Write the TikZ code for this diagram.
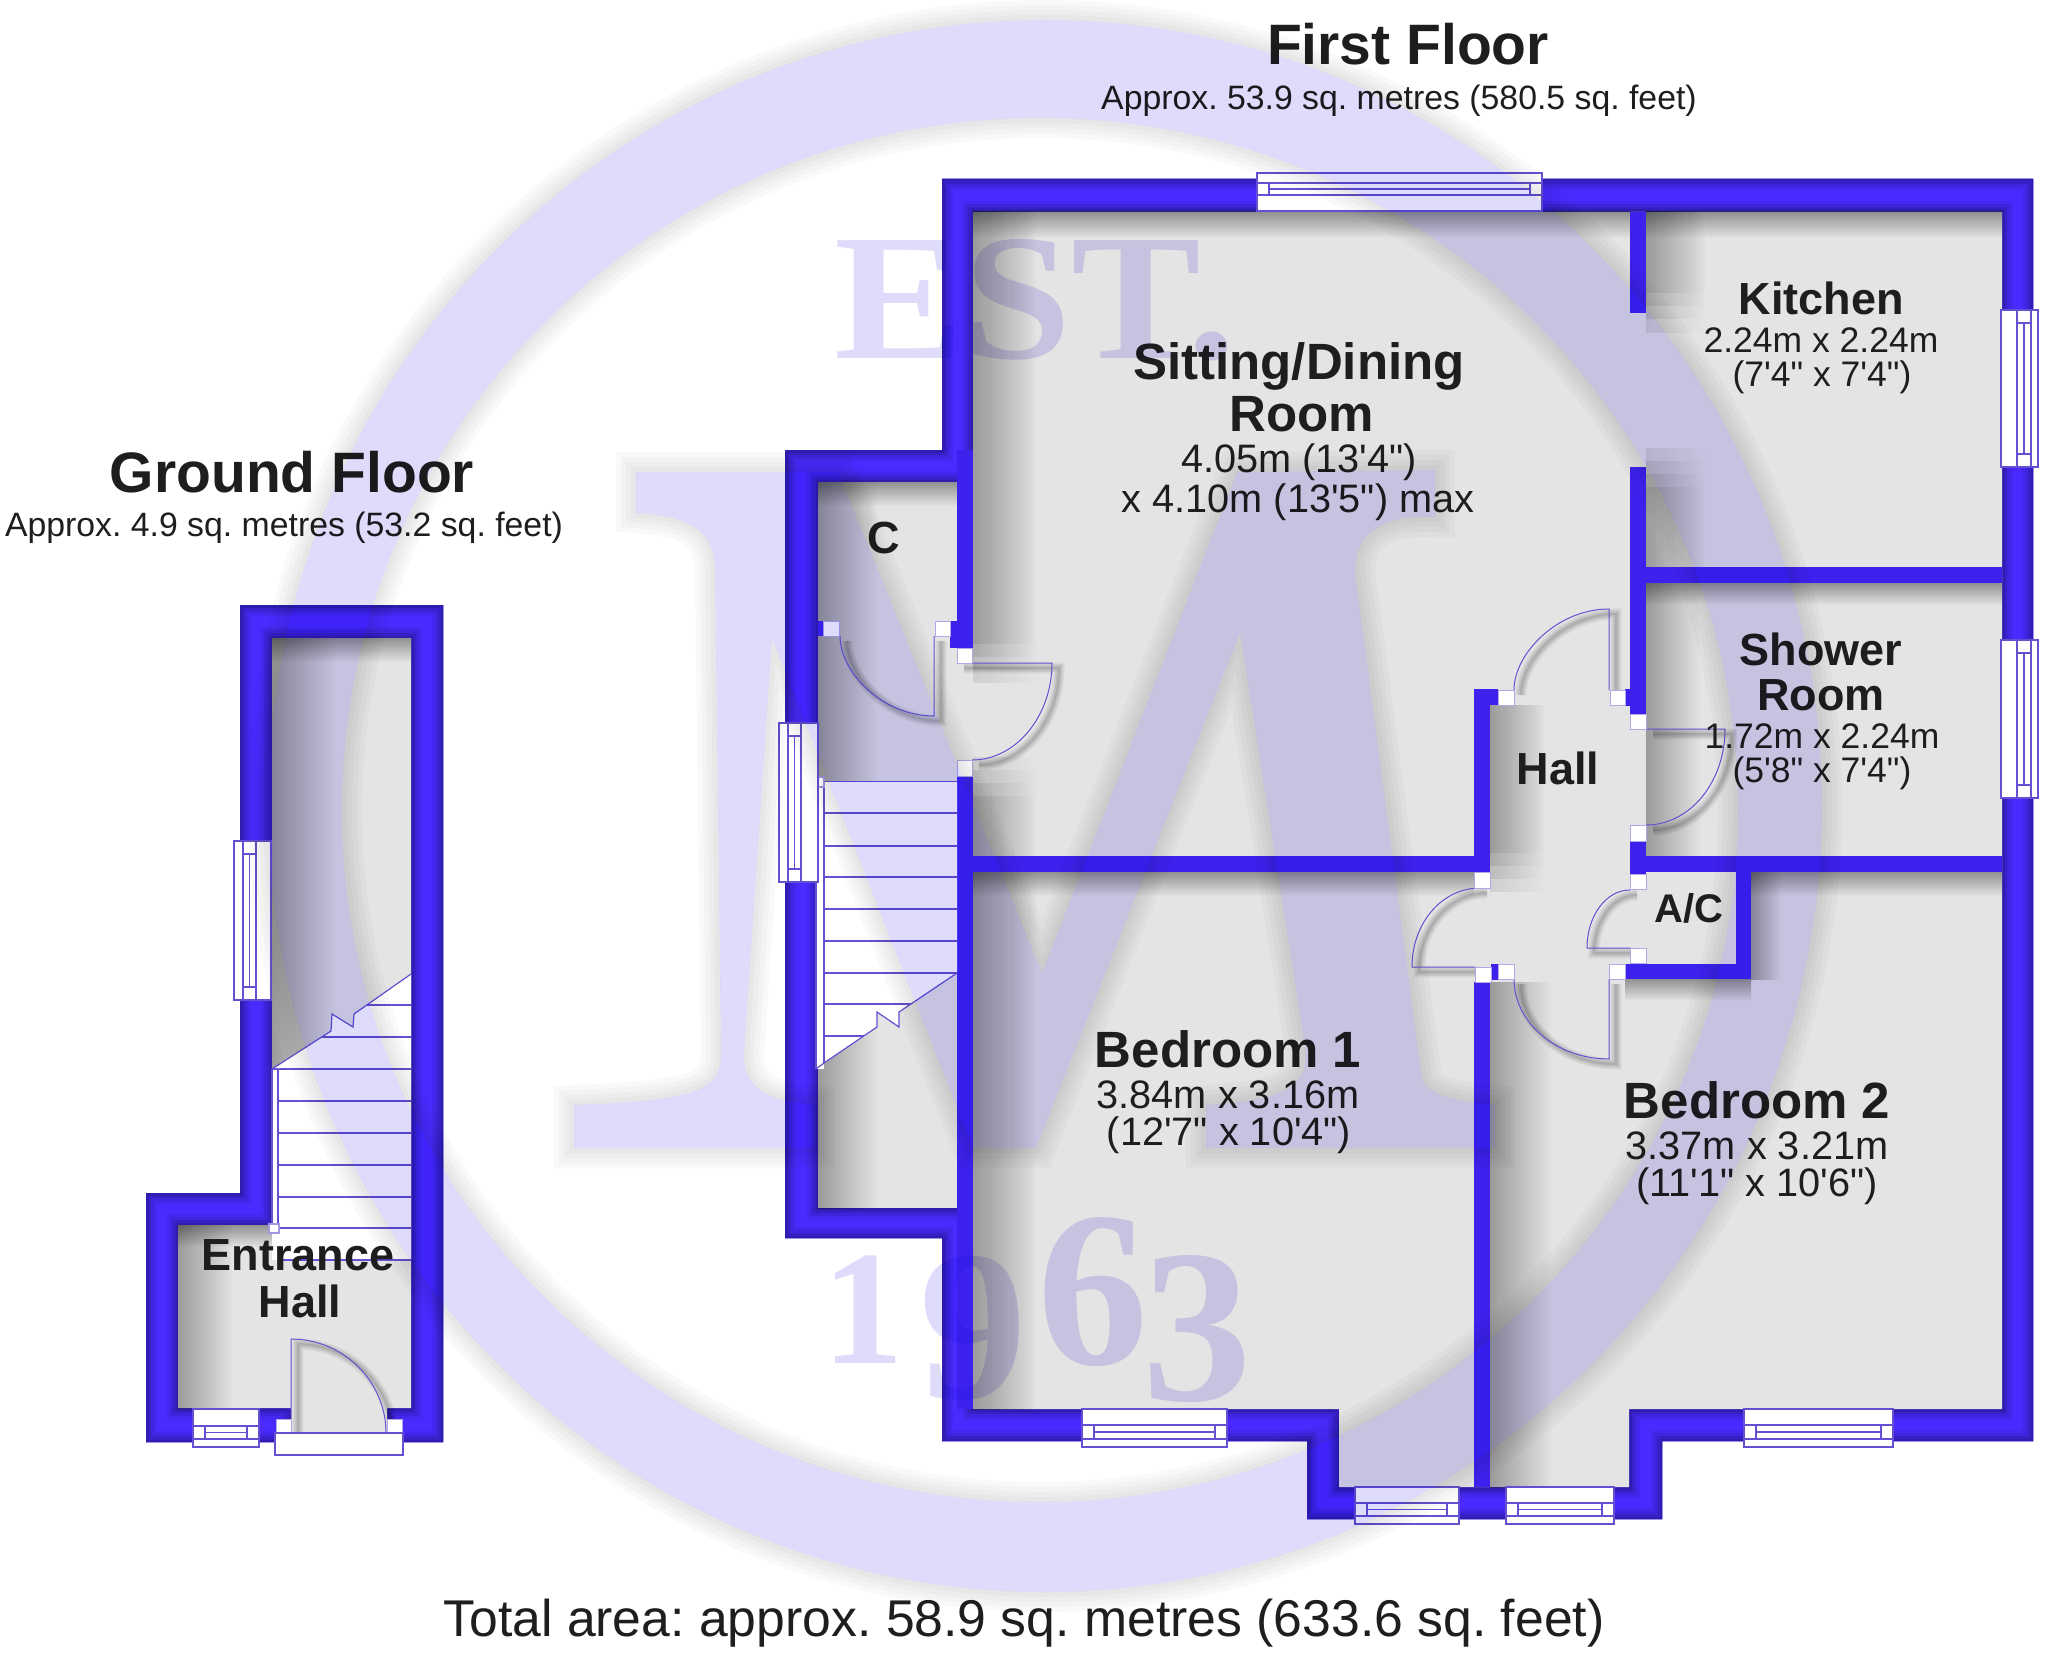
\documentclass[tikz,border=0pt]{standalone}
\usepackage{fontspec}
\setmainfont{Liberation Sans}[Ligatures=TeXOff]
\newfontfamily\wmserif{Liberation Serif}
\definecolor{wallb}{HTML}{4A2BFF}
\definecolor{walld}{HTML}{2C1AA8}
\definecolor{wallp}{HTML}{3D22EE}
\definecolor{floorg}{HTML}{E4E4E4}
\definecolor{planline}{HTML}{6450D0}
\definecolor{wmark}{HTML}{DEDBFB}
\definecolor{labelc}{HTML}{1E1E1E}
\tikzset{
  x=1pt,y=-1pt,
  plan/.style={draw=planline,line width=1.2pt},
  whitebox/.style={plan,fill=white},
  floorfill/.style={fill=floorg},
  inner/.style={fill=wallp},
  big/.style={font=\bfseries\fontsize{57}{57}\selectfont,text=labelc,inner sep=0pt},
  area/.style={font=\fontsize{33.8}{34}\selectfont,text=labelc,inner sep=0pt},
  rname/.style={font=\bfseries\fontsize{51}{51}\selectfont,text=labelc,inner sep=0pt},
  rnamesm/.style={font=\bfseries\fontsize{45}{45}\selectfont,text=labelc,inner sep=0pt},
  dim/.style={font=\fontsize{39.7}{40}\selectfont,text=labelc,inner sep=0pt},
  dimsm/.style={font=\fontsize{35.5}{36}\selectfont,text=labelc,inner sep=0pt},
  total/.style={font=\fontsize{51.7}{52}\selectfont,text=labelc,inner sep=0pt},
  wmdigit/.style={text=wmark,inner sep=0pt},
}
\frenchspacing
% horizontal window: x1 x2, y outer-box top, line1, line2, box bottom
\newcommand{\Hwin}[6]{%
  \pgfmathsetmacro{\wa}{#1+12}\pgfmathsetmacro{\wb}{#2-12}\pgfmathsetmacro{\wm}{(#4+#5)/2}
  \draw[whitebox] (#1,#3) rectangle (#2,#6);
  \draw[plan] (#1,#4) -- (#2,#4) (#1,#5) -- (#2,#5) (\wa,#4) -- (\wa,#5) (\wb,#4) -- (\wb,#5) (\wa,\wm) -- (\wb,\wm);
}
% vertical window: y1 y2, x box left, line1, line2, box right
\newcommand{\Vwin}[6]{%
  \pgfmathsetmacro{\wa}{#1+13}\pgfmathsetmacro{\wb}{#2-13}\pgfmathsetmacro{\wm}{(#4+#5)/2}
  \draw[whitebox] (#3,#1) rectangle (#6,#2);
  \draw[plan] (#4,#1) -- (#4,#2) (#5,#1) -- (#5,#2) (#4,\wa) -- (#5,\wa) (#4,\wb) -- (#5,\wb) (\wm,\wa) -- (\wm,\wb);
}
% shadow bands (multiplied over the floor)
\newcommand{\SV}[4]{\shade[blend mode=multiply,left color=black!32,right color=white] (#1,#2) rectangle ({#1+#4},#3);}
\newcommand{\SVl}[4]{\shade[blend mode=multiply,left color=black!9,right color=white] (#1,#2) rectangle ({#1+#4},#3);}
\newcommand{\SH}[4]{\shade[blend mode=multiply,top color=black!36,bottom color=white] (#1,#3) rectangle (#2,{#3+#4});}
\newcommand{\Jamb}[4]{\fill[white] (#1,#2) rectangle (#3,#4); \draw[draw=planline!50,line width=.8pt] (#1,#2) rectangle (#3,#4);}
% door: hinge h, leaf end a, arc controls c1 c2, arc end b
\newcommand{\Door}[5]{%
  \foreach \k/\op in {11/.05,8/.06,5/.07,2/.08}{
    \draw[black,opacity=\op,line width=\k pt,line cap=butt,xshift=7pt,yshift=-5pt] #1 -- #2 .. controls #3 and #4 .. #5;
  }
  \draw[plan,line width=1pt] #1 -- #2 .. controls #3 and #4 .. #5;
}
\begin{document}
\begin{tikzpicture}
\useasboundingbox (0,0) rectangle (2048,1653);
\fill[white] (0,0) rectangle (2048,1653);

%% ===== silhouettes =====
\def\outerG{(240,605) -- (443,605) -- (443,1442) -- (146,1442) -- (146,1193) -- (240,1193) -- cycle}
\def\outerF{(942,179) -- (2033,179) -- (2033,1441) -- (1662,1441) -- (1662,1519) -- (1307,1519) -- (1307,1441) -- (942,1441) -- (942,1238) -- (785,1238) -- (785,450) -- (942,450) -- cycle}
\def\floorG{(272,638) -- (411,638) -- (411,1408) -- (387,1408) -- (387,1433) -- (291,1433) -- (291,1408) -- (178,1408) -- (178,1225) -- (272,1225) -- cycle}
\def\floorF{(973,212) -- (2002,212) -- (2002,1409) -- (1629,1409) -- (1629,1487) -- (1339,1487) -- (1339,1409) -- (973,1409) -- cycle}
\def\floorC{(818,482) -- (957,482) -- (957,1208) -- (818,1208) -- cycle}

\foreach \ring in {0,1}{
  \begin{scope}
    \ifnum\ring=0 \clip \outerG; \else \clip \outerF; \fi
    \fill[wallb] (0,0) rectangle (2048,1653);
    \foreach \w/\m in {22/18,16/40,10/65,5/90}{
      \draw[walld!\m!wallb,line width=\w pt] \outerG;
      \draw[walld!\m!wallb,line width=\w pt] \outerF;
      \draw[walld!\m!wallb,line width=\w pt] \floorG;
      \draw[walld!\m!wallb,line width=\w pt] \floorF;
      \draw[walld!\m!wallb,line width=\w pt] \floorC;
    }
  \end{scope}
}

%% ===== floors =====
\fill[floorfill] \floorG;
\fill[floorfill] \floorF;
\fill[floorfill] \floorC;
\fill[floorfill] (950,663) rectangle (980,760);

%% ===== soft wall shadows =====
\begin{scope}
\SV{272}{638}{1225}{64}
\SV{178}{1225}{1408}{55}
\SH{272}{411}{638}{24}
\SH{178}{272}{1225}{22}
\SV{818}{482}{1208}{60}
\SH{818}{957}{482}{24}
\foreach \d in {0,13,26,39}{
  \SVl{973}{212}{643+\d}{64}
  \SVl{973}{796-\d}{1409}{64}
  \SVl{1646}{212}{293+\d}{60}
  \SVl{1646}{487-\d}{567}{60}
  \SVl{1490}{705}{852+\d}{55}
}
\SH{973}{1630}{212}{26}
\SH{1646}{2002}{212}{26}
\SV{1646}{583}{856}{55}
\SH{1646}{2002}{583}{22}
\SH{973}{1474}{872}{24}
\SV{1490}{982}{1487}{62}
\SH{1751}{2002}{872}{24}
\SV{1751}{872}{979}{30}
\SH{1625}{1751}{979}{22}
\end{scope}

%% ===== partition walls =====
\fill[inner] (957,450) rectangle (973,648);
\fill[inner] (957,776) rectangle (973,1409);
\fill[inner] (818,621) rectangle (823,636);
\fill[inner] (950,621) rectangle (957,648);
\fill[inner] (973,856) rectangle (1490,872);
\fill[inner] (1630,856) rectangle (2002,872);
\fill[inner] (1474,689) rectangle (1490,872);
\fill[inner] (1474,689) rectangle (1498,705);
\fill[inner] (1630,212) rectangle (1646,313);
\fill[inner] (1630,467) rectangle (1646,714);
\fill[inner] (1625,689) rectangle (1646,706);
\fill[inner] (1630,841) rectangle (1646,874);
\fill[inner] (1474,982) rectangle (1490,1487);
\fill[inner] (1491,964) rectangle (1498,980);
\fill[inner] (1625,964) rectangle (1751,979);
\fill[inner] (1736,872) rectangle (1751,979);
\fill[inner] (1646,567) rectangle (2002,583);

%% ===== stairs =====
% ground floor
\fill[white] (272,1069) -- (331,1031) -- (332,1014) -- (353,1027) -- (354,1014) -- (411,974) -- (411,1260) -- (272,1260) -- cycle;
\fill[white] (272,1069) rectangle (278,1228);
\draw[plan] (272,1069) -- (331,1031) -- (332,1014) -- (353,1027) -- (354,1014) -- (411,974);
\foreach \y in {1005,1037,1069,1101,1133,1165,1197,1228,1260}{
  \begin{scope}
    \clip (278,1069) -- (331,1031) -- (332,1014) -- (353,1027) -- (354,1014) -- (411,974) -- (411,1262) -- (278,1262) -- cycle;
    \draw[plan] (278,\y) -- (411,\y);
  \end{scope}
}
\draw[plan] (272,1069) -- (272,1224) (278,1069) -- (278,1224) (272,1069) -- (278,1069);
\draw[whitebox,draw=planline!60] (269,1224) rectangle (279,1233);
% first floor
\fill[white] (824,781) -- (957,781) -- (957,973) -- (899,1012) -- (899,1027) -- (877,1012) -- (877,1027) -- (824,1063) -- cycle;
\fill[white] (816,787) rectangle (824,1069);
\draw[plan] (824,1063) -- (877,1027) -- (877,1012) -- (899,1027) -- (899,1012) -- (957,973);
\draw[plan] (816,1069) -- (824,1063);
\foreach \y in {781,813,846,877,909,941,973,1004,1036}{
  \begin{scope}
    \clip (824,781) -- (957,781) -- (957,973) -- (899,1012) -- (899,1027) -- (877,1012) -- (877,1027) -- (824,1063) -- cycle;
    \draw[plan] (824,\y) -- (957,\y);
  \end{scope}
}
\draw[plan] (824,787) -- (824,1063);
\draw[plan] (816,787) -- (816,1069);
\draw[whitebox,draw=planline!60] (817,777) rectangle (824,787);

%% ===== doors =====
\Door{(291,1433)}{(291,1339)}{(343,1339)}{(386,1381)}{(386,1433)}
\Door{(934,636)}{(934,716)}{(882,716)}{(840,672)}{(840,636)}
\Door{(957,663)}{(1052,663)}{(1052,716)}{(1016,760)}{(972,760)}
\Door{(1609,690)}{(1609,609)}{(1557,609)}{(1514,654)}{(1514,690)}
\Door{(1646,729)}{(1725,729)}{(1725,782)}{(1690,825)}{(1646,825)}
\Door{(1475,967)}{(1412,967)}{(1412,923)}{(1442,888)}{(1480,888)}
\Door{(1609,979)}{(1609,1059)}{(1557,1059)}{(1514,1023)}{(1514,979)}
\Door{(1630,948)}{(1587,948)}{(1587,916)}{(1606,890)}{(1630,890)}

%% ===== door jambs =====
\Jamb{276}{1419}{291}{1433}
\Jamb{387}{1419}{402}{1433}
\Jamb{823}{621}{839}{636}
\Jamb{935}{621}{950}{636}
\Jamb{957}{648}{972}{663}
\Jamb{957}{760}{972}{776}
\Jamb{1498}{690}{1514}{705}
\Jamb{1610}{690}{1625}{705}
\Jamb{1630}{714}{1646}{729}
\Jamb{1630}{825}{1646}{841}
\Jamb{1474}{872}{1490}{888}
\Jamb{1630}{874}{1646}{889}
\Jamb{1630}{948}{1646}{963}
\Jamb{1475}{967}{1491}{982}
\Jamb{1498}{964}{1514}{979}
\Jamb{1609}{964}{1625}{979}

%% ===== windows =====
\draw[whitebox] (275,1433) rectangle (403,1455);
\Hwin{193}{259}{1409}{1426}{1439}{1447}
\Hwin{1257}{1542}{173}{183}{195}{211}
\Hwin{1082}{1227}{1409}{1425}{1439}{1447}
\Hwin{1744}{1893}{1409}{1425}{1439}{1447}
\Hwin{1355}{1459}{1487}{1503}{1516}{1524}
\Hwin{1506}{1614}{1487}{1503}{1516}{1524}
\Vwin{841}{1000}{234}{243}{256}{271}
\Vwin{723}{882}{779}{788}{801}{818}
\Vwin{310}{467}{2001}{2017}{2031}{2038}
\Vwin{640}{798}{2001}{2017}{2031}{2038}

%% ===== labels =====
\node[big] (lblGround) at (292,472) {Ground Floor};
\node[area] (lblGroundA) at (284,528) {Approx. 4.9 sq. metres (53.2 sq. feet)};
\node[big] (lblFirst) at (1408,44) {First Floor};
\node[area] (lblFirstA) at (1399,101) {Approx. 53.9 sq. metres (580.5 sq. feet)};
\node[total] (lblTotal) at (1024,1623) {Total area: approx. 58.9 sq. metres (633.6 sq. feet)};
\node[rnamesm] (lblEnt) at (298,1255) {Entrance};
\node[rnamesm] (lblEntH) at (300,1301) {Hall};
\node[rnamesm] (lblC) at (884,538) {C};
\node[rname] (lblSit) at (1299,366) {Sitting/Dining};
\node[rname] (lblSitR) at (1302,414) {Room};
\node[dim] (lblSitA) at (1299,462) {4.05m (13'4")};
\node[dim] (lblSitB) at (1298,502) {x 4.10m (13'5") max};
\node[rnamesm] (lblKit) at (1821,298) {Kitchen};
\node[dimsm] (lblKitA) at (1821,340) {2.24m x 2.24m};
\node[dimsm] (lblKitB) at (1822,377) {(7'4" x 7'4")};
\node[rnamesm] (lblSho) at (1821,649) {Shower};
\node[rnamesm] (lblShoR) at (1821,695) {Room};
\node[dimsm] (lblShoA) at (1822,736) {1.72m x 2.24m};
\node[dimsm] (lblShoB) at (1822,773) {(5'8" x 7'4")};
\node[rnamesm] (lblHall) at (1558,768) {Hall};
\node[rnamesm,font=\bfseries\fontsize{40}{40}\selectfont] (lblAC) at (1689,908) {A/C};
\node[rname] (lblB1) at (1228,1049) {Bedroom 1};
\node[dim] (lblB1A) at (1228,1095) {3.84m x 3.16m};
\node[dim] (lblB1B) at (1229,1135) {(12'7" x 10'4")};
\node[rname] (lblB2) at (1757,1100) {Bedroom 2};
\node[dim] (lblB2A) at (1757,1146) {3.37m x 3.21m};
\node[dim] (lblB2B) at (1757,1186) {(11'1" x 10'6")};

%% ===== watermark =====
\def\wmRing{(1822,806) arc [start angle=0,end angle=-360,x radius=777,y radius=786]
     (1738,810) arc [start angle=0,end angle=360,x radius=698,y radius=692]}
\def\wmM{(636,472) -- (636,513) .. controls (690,516) and (715,530) .. (715,572)
     -- (721,1053) .. controls (721,1090) and (700,1100) .. (574,1105) -- (574,1148) -- (814,1148) -- (814,1105)
     .. controls (760,1100) and (744,1085) .. (744,1053) -- (772,638) -- (973,1148) -- (1036,1148) -- (1240,633)
     -- (1306,1053) .. controls (1306,1090) and (1280,1100) .. (1206,1105) -- (1206,1148) -- (1495,1148) -- (1495,1105)
     .. controls (1440,1100) and (1421,1090) .. (1421,1072) -- (1355,572) .. controls (1355,530) and (1385,515) .. (1435,517)
     -- (1435,470) -- (1237,472) -- (1042,973) -- (838,472) -- cycle}
% soft halo outside the watermark shapes
\begin{scope}[even odd rule]
  \clip (-10,-10) rectangle (2058,1663) \wmRing;
  \clip (-10,-10) rectangle (2058,1663) \wmM;
  \foreach \w in {40,30,20,10}{
    \draw[black,opacity=.022,line width=\w pt] \wmRing;
    \draw[black,opacity=.022,line width=\w pt] \wmM;
  }
\end{scope}
\begin{scope}[blend mode=multiply]
  \fill[wmark,nonzero rule] \wmRing \wmM;
  \node[font=\wmserif\bfseries\fontsize{180}{180}\selectfont,xscale=1.08,text=wmark,inner sep=0pt] (wmEst) at (1035,300) {EST.};
  \node[wmdigit,font=\wmserif\bfseries\fontsize{163}{163}\selectfont] (wmOne) at (863,1310) {1};
  \node[wmdigit,font=\wmserif\bfseries\fontsize{215}{215}\selectfont] (wmNine) at (973,1328) {9};
  \node[wmdigit,font=\wmserif\bfseries\fontsize{222}{222}\selectfont] (wmSix) at (1093,1292) {6};
  \node[wmdigit,font=\wmserif\bfseries\fontsize{219}{219}\selectfont] (wmThree) at (1197,1329) {3};
\end{scope}
\end{tikzpicture}
\end{document}
